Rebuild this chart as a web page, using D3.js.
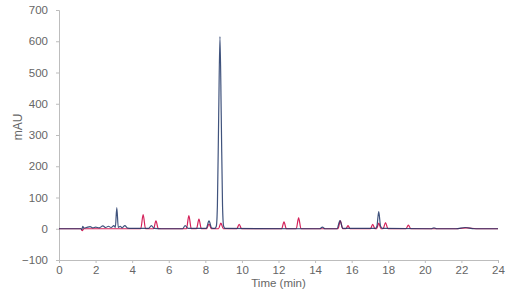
<!DOCTYPE html>
<meta charset="utf-8">
<script src="https://d3js.org/d3.v7.min.js"></script>
<style>
  body { margin: 0; background: #fff; }
  text { font-family: "Liberation Sans", Arial, sans-serif; }
</style>
<div id="chart"></div>
<script>
// trace points [time (min), mAU]
var navyTrace = [
  [0, 0], [1.2, 0], [1.25, -3], [1.3, 8], [1.36, 2], [1.5, 4], [1.7, 7], [1.85, 3],
  [2.0, 5], [2.2, 3], [2.4, 9], [2.55, 4], [2.7, 8], [2.85, 4], [3.0, 10], [3.08, 4],
  [3.16, 68], [3.24, 4], [3.35, 8], [3.45, 3], [3.6, 10], [3.75, 2], [4.0, 1],
  [4.9, 1], [5.05, 10], [5.2, 1], [5.6, 0], [6.75, 0], [6.9, 10], [7.05, 1],
  [8.05, 1], [8.2, 25], [8.35, 2], [8.52, 1], [8.6, 8], [8.66, 74], [8.73, 363],
  [8.8, 615], [8.87, 363], [8.94, 74], [9.0, 8], [9.08, 1], [14.25, 0], [14.4, 5],
  [14.55, 0], [15.2, 0], [15.36, 26], [15.52, 1], [17.3, 1], [17.38, 8], [17.48, 55],
  [17.58, 8], [17.7, 1], [20.35, 0], [20.5, 3], [20.65, 0], [21.7, 0], [22.2, 4],
  [22.7, 0], [24, 0]
];
var pinkTrace = [
  [0, 0], [1.2, 0], [1.27, -6], [1.36, 0], [4.47, 0], [4.6, 45], [4.73, 0],
  [5.17, 0], [5.3, 25], [5.43, 0], [6.97, 0], [7.1, 42], [7.23, 0], [7.52, 0],
  [7.65, 31], [7.78, 0], [8.07, 0], [8.2, 15], [8.33, 0], [8.72, 0], [8.85, 18],
  [8.98, 0], [9.72, 0], [9.85, 14], [9.98, 0], [12.17, 0], [12.3, 22], [12.43, 0],
  [12.97, 0], [13.1, 35], [13.23, 0], [15.25, 0], [15.38, 25], [15.51, 0],
  [15.68, 0], [15.8, 10], [15.92, 0], [17.03, 0], [17.15, 14], [17.27, 0],
  [17.37, 0], [17.48, 18], [17.6, 0], [17.72, 0], [17.85, 20], [17.98, 0],
  [18.97, 0], [19.1, 12], [19.23, 0], [21.8, 0], [22.3, 3], [22.8, 0], [24, 0]
];
var xTicks = [0, 2, 4, 6, 8, 10, 12, 14, 16, 18, 20, 22, 24];
var yTicks = [-100, 0, 100, 200, 300, 400, 500, 600, 700];

var width = 512, height = 307;
var margin = {top: 10, right: 14, bottom: 47, left: 59};

var svg = d3.select("#chart").append("svg")
  .attr("width", width)
  .attr("height", height);

var x = d3.scaleLinear().domain([0, 24]).range([margin.left, width - margin.right]);
var y = d3.scaleLinear().domain([-100, 700]).range([height - margin.bottom, margin.top]);

var xAxis = svg.append("g")
  .attr("transform", "translate(0," + y(-100) + ")")
  .call(d3.axisBottom(x).tickValues(xTicks).tickSize(3).tickPadding(3));
var yAxis = svg.append("g")
  .attr("transform", "translate(" + x(0) + ",0)")
  .call(d3.axisLeft(y).tickValues(yTicks).tickSize(3).tickPadding(8));

[xAxis, yAxis].forEach(function(g) {
  g.select(".domain").attr("stroke", "#bdbdbd");
  g.selectAll(".tick line").attr("stroke", "#bdbdbd");
  g.selectAll(".tick text")
    .attr("fill", "#666")
    .style("font-size", "11.5px")
    .style("font-family", "'Liberation Sans', Arial, sans-serif");
});

var line = d3.line()
  .x(d => x(d[0]))
  .y(d => y(d[1]))
  .curve(d3.curveMonotoneX);

svg.append("path")
  .datum(pinkTrace)
  .attr("fill", "none")
  .attr("stroke", "#d4215a")
  .attr("stroke-width", 1.2)
  .attr("d", line);

svg.append("path")
  .datum(navyTrace)
  .attr("fill", "none")
  .attr("stroke", "#1f3566")
  .attr("stroke-opacity", 0.85)
  .attr("stroke-width", 1.2)
  .attr("d", line);

svg.append("text")
  .attr("x", (x(0) + x(24)) / 2)
  .attr("y", 287)
  .attr("text-anchor", "middle")
  .attr("fill", "#666")
  .style("font-size", "11.5px")
  .text("Time (min)");

svg.append("text")
  .attr("transform", "translate(22,127) rotate(-90)")
  .attr("text-anchor", "middle")
  .attr("fill", "#666")
  .style("font-size", "12px")
  .text("mAU");
</script>
